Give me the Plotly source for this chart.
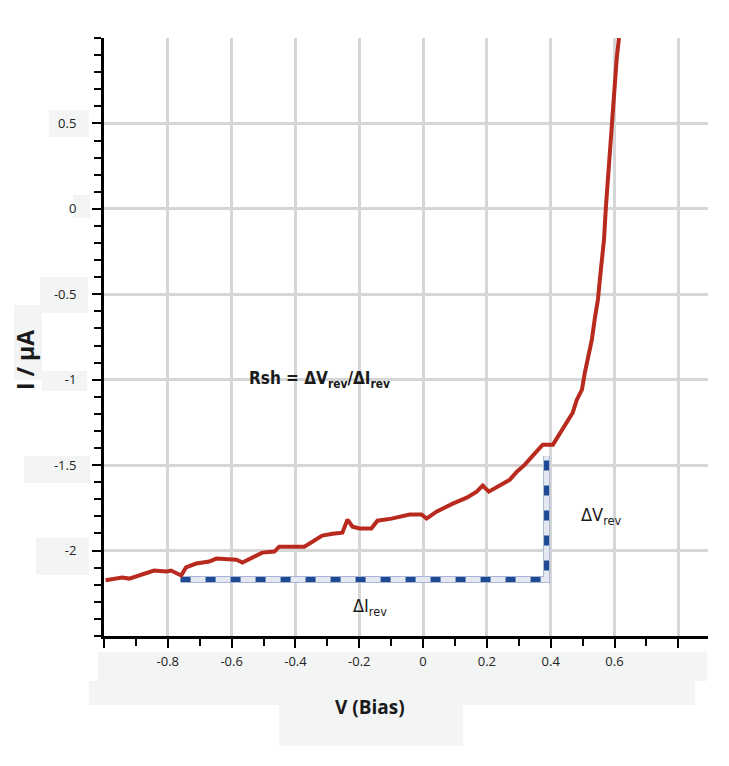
import plotly.graph_objects as go

# ---- data ----
bias_v = [-0.995, -0.943, -0.921, -0.881, -0.843, -0.805, -0.790, -0.758, -0.743, -0.711,
          -0.670, -0.648, -0.585, -0.566, -0.538, -0.504, -0.466, -0.451, -0.372, -0.347,
          -0.316, -0.284, -0.253, -0.237, -0.221, -0.199, -0.162, -0.143, -0.099, -0.042,
          -0.005, 0.011, 0.042, 0.093, 0.137, 0.168, 0.187, 0.206, 0.231, 0.272,
          0.294, 0.319, 0.344, 0.375, 0.407, 0.429, 0.451, 0.469, 0.482, 0.498,
          0.507, 0.517, 0.529, 0.539, 0.548, 0.554, 0.560, 0.567, 0.573, 0.579,
          0.585, 0.592, 0.595, 0.601, 0.607, 0.614]
current_ua = [-2.174, -2.158, -2.164, -2.140, -2.117, -2.123, -2.117, -2.146, -2.099, -2.076,
              -2.064, -2.047, -2.053, -2.070, -2.041, -2.012, -2.006, -1.977, -1.977, -1.947,
              -1.912, -1.901, -1.895, -1.819, -1.860, -1.871, -1.871, -1.825, -1.813, -1.789,
              -1.789, -1.813, -1.772, -1.725, -1.690, -1.655, -1.620, -1.655, -1.626, -1.585,
              -1.538, -1.497, -1.444, -1.380, -1.380, -1.310, -1.251, -1.193, -1.117, -1.058,
              -0.959, -0.865, -0.766, -0.632, -0.532, -0.415, -0.316, -0.181, 0.012, 0.170,
              0.327, 0.520, 0.620, 0.737, 0.883, 1.000]

# reverse-bias construction (dashed right angle)
guide_v = [-0.76, 0.387, 0.387]
guide_i = [-2.17, -2.17, -1.448]

x_tickvals = [-1.0, -0.8, -0.6, -0.4, -0.2, 0.0, 0.2, 0.4, 0.6, 0.8]
x_ticktext = ["", "-0.8", "-0.6", "-0.4", "-0.2", "0", "0.2", "0.4", "0.6", ""]
y_tickvals = [-2.0, -1.5, -1.0, -0.5, 0.0, 0.5]
y_ticktext = ["-2", "-1.5", "-1", "-0.5", "0", "0.5"]

x_range = [-1.0, 0.893]
y_range = [-2.5, 1.0]

# page has an 8px body margin; figure is sized/offset to compensate
OFF = 8
W, H = 729 - OFF, 766 - OFF
ML, MR, MT, MB = 104 - OFF, 21, 38 - OFF, 130
PW, PH = W - ML - MR, H - MT - MB


def px_x(x):
    return (x - OFF - ML) / PW


def px_y(y):
    return (H - MB - (y - OFF)) / PH


fig = go.Figure()

fig.add_trace(go.Scatter(x=guide_v, y=guide_i, mode="lines",
                         line=dict(color="#a9b5d6", width=7), hoverinfo="skip",
                         showlegend=False))
fig.add_trace(go.Scatter(x=guide_v, y=guide_i, mode="lines",
                         line=dict(color="#e4e8f0", width=5), hoverinfo="skip",
                         showlegend=False))
fig.add_trace(go.Scatter(x=guide_v, y=guide_i, mode="lines",
                         line=dict(color="#1d4a93", width=5, dash="10px,15px"),
                         hoverinfo="skip", showlegend=False))
fig.add_trace(go.Scatter(x=bias_v, y=current_ua, mode="lines",
                         line=dict(color="#b8291e", width=4), showlegend=False))

# faint label background boxes seen in the reference (page pixel coords)
boxes = [(49, 110, 89, 137), (73, 195, 90, 218), (40, 277, 88, 313), (14, 305, 42, 380),
         (42, 371, 87, 391), (24, 456, 90, 483), (36, 538, 89, 575),
         (98, 652, 707, 681), (89, 681, 695, 705), (279, 705, 463, 746)]
shapes = []
for (bx0, by0, bx1, by1) in boxes:
    shapes.append(dict(type="rect", xref="paper", yref="paper", layer="below",
                       fillcolor="#f3f4f4", line=dict(width=0),
                       x0=px_x(bx0), x1=px_x(bx1), y0=px_y(by1), y1=px_y(by0)))

lab_font = "DejaVu Sans Condensed, Liberation Sans, sans-serif"
annotations = [
    dict(x=-0.325, y=-1.0, xref="x", yref="y", showarrow=False,
         xanchor="center", yanchor="middle",
         text="<b>Rsh = ΔV<sub>rev</sub>/ΔI<sub>rev</sub></b>",
         font=dict(family=lab_font, size=17, color="#1a1a1a")),
    dict(x=0.56, y=-1.80, xref="x", yref="y", showarrow=False,
         xanchor="center", yanchor="middle",
         text="ΔV<sub>rev</sub>",
         font=dict(family=lab_font, size=18, color="#1a1a1a")),
    dict(x=-0.165, y=-2.33, xref="x", yref="y", showarrow=False,
         xanchor="center", yanchor="middle",
         text="ΔI<sub>rev</sub>",
         font=dict(family=lab_font, size=18, color="#1a1a1a")),
    dict(x=px_x(370), y=px_y(707), xref="paper", yref="paper", showarrow=False,
         xanchor="center", yanchor="middle", text="<b>V (Bias)</b>",
         font=dict(family="Open Sans, sans-serif", size=19, color="#1a1a1a")),
    dict(x=px_x(25), y=px_y(360), xref="paper", yref="paper", showarrow=False,
         xanchor="center", yanchor="middle", text="<b>I / μA</b>",
         textangle=-90,
         font=dict(family="Open Sans, sans-serif", size=23, color="#1a1a1a")),
]

fig.update_layout(
    width=W, height=H,
    margin=dict(l=ML, r=MR, t=MT, b=MB),
    paper_bgcolor="white", plot_bgcolor="white",
    shapes=shapes, annotations=annotations,
    font=dict(family="Open Sans, sans-serif", size=13, color="#222222"),
)

fig.update_xaxes(range=x_range, tickvals=x_tickvals, ticktext=x_ticktext,
                 showgrid=True, gridcolor="#d6d6d6", gridwidth=2.5,
                 showline=True, linecolor="black", linewidth=3,
                 ticks="outside", ticklen=9, tickwidth=2, tickcolor="black",
                 minor=dict(dtick=0.1, tick0=-1.0, ticks="outside", ticklen=7,
                            tickwidth=2, tickcolor="black", showgrid=False),
                 zeroline=False, ticklabelstandoff=2)
fig.update_yaxes(range=y_range, tickvals=y_tickvals, ticktext=y_ticktext,
                 showgrid=True, gridcolor="#d6d6d6", gridwidth=2.5,
                 showline=True, linecolor="black", linewidth=3,
                 ticks="outside", ticklen=9, tickwidth=2, tickcolor="black",
                 minor=dict(dtick=0.1, tick0=-2.5, ticks="outside", ticklen=7,
                            tickwidth=2, tickcolor="black", showgrid=False),
                 zeroline=False, ticklabelstandoff=13)

fig.write_html("out.html")
